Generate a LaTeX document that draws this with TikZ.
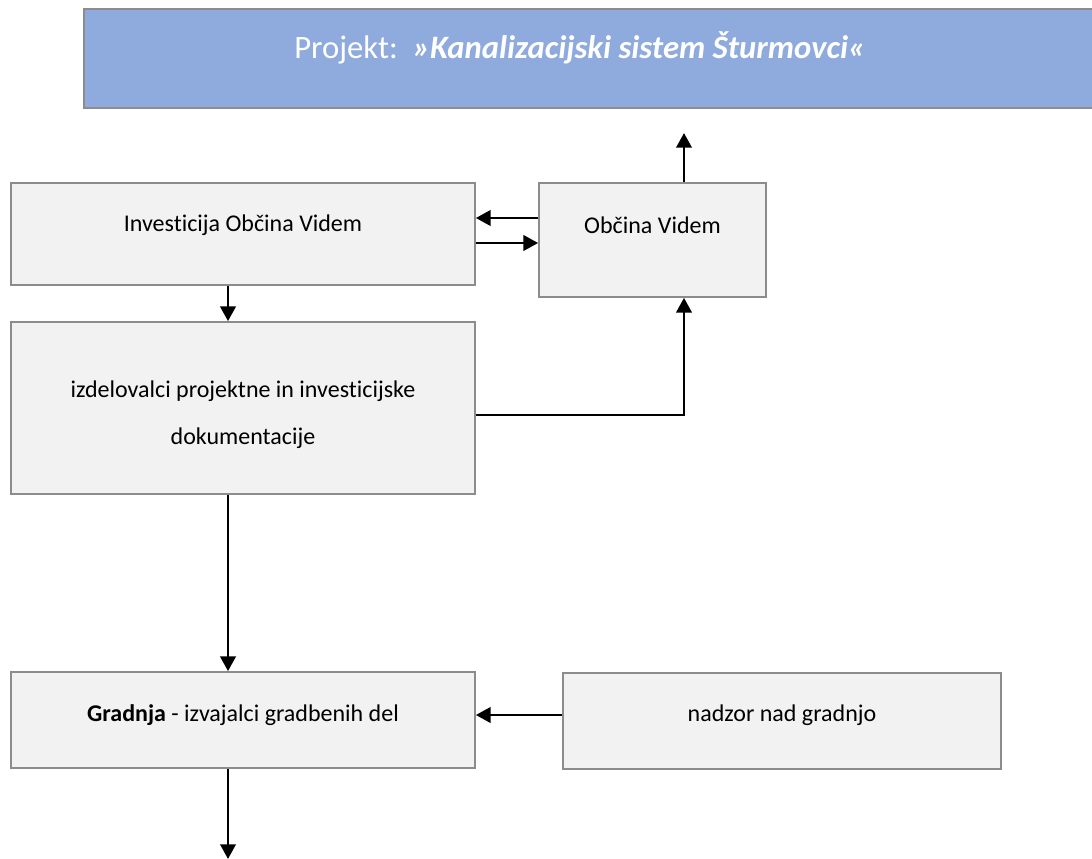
\documentclass[tikz,border=0pt]{standalone}
\usepackage{fontspec}
\setmainfont{Carlito}[Ligatures=NoCommon]
\usetikzlibrary{arrows.meta}
\definecolor{titleblue}{HTML}{8FAADC}
\definecolor{boxfill}{HTML}{F2F2F2}
\definecolor{boxline}{HTML}{8C8C8C}
\begin{document}
\begin{tikzpicture}[x=0.75pt,y=-0.75pt,
  box/.style={draw=boxline,line width=1.3pt,fill=boxfill,rectangle,inner sep=0pt},
  titlebox/.style={draw=boxline,line width=1.8pt,fill=titleblue,rectangle,inner sep=0pt},
  txt/.style={font=\fontsize{18}{35}\selectfont,text=black,align=center,inner sep=0pt},
  arr/.style={line width=2pt,-{Triangle[length=11pt,width=11.5pt]}},
  ln/.style={line width=2pt}]
\useasboundingbox (0,0) rectangle (1092,859);
% title
\node[titlebox,minimum width=762pt,minimum height=74.25pt] (title) at (592,58.5) {};
\node[font=\fontsize{24.5}{28}\selectfont,text=white,inner sep=0pt] (titletxt) at (580,48)
  {Projekt:\ \ \textbf{\textit{»Kanalizacijski sistem Šturmovci«}}};
% boxes
\node[box,minimum width=348pt,minimum height=76.5pt] (b1) at (243,234) {};
\node[txt] (t1) at (243,225) {Investicija Občina Videm};
\node[box,minimum width=170.25pt,minimum height=85.5pt] (b2) at (652.5,240) {};
\node[txt] (t2) at (652.5,225) {Občina Videm};
\node[box,minimum width=348pt,minimum height=129pt] (b3) at (243,408) {};
\node[txt] (t3) at (243,414.5) {izdelovalci projektne in investicijske\\dokumentacije};
\node[box,minimum width=348pt,minimum height=72pt] (b4) at (243,720) {};
\node[txt] (t4) at (243,715) {\textbf{Gradnja} - izvajalci gradbenih del};
\node[box,minimum width=328.5pt,minimum height=72pt] (b5) at (782,721) {};
\node[txt] (t5) at (782,715) {nadzor nad gradnjo};
% helper coordinates
\coordinate (xa) at (228,0);
\coordinate (xb) at (684,0);
\coordinate (ya) at (0,218);
\coordinate (yb) at (0,243);
\coordinate (yc) at (0,415);
\coordinate (yd) at (0,715);
\coordinate (topend) at (684,133);
\coordinate (bend) at (684,415);
\coordinate (botend) at (228,859);
% connectors
\draw[arr] (b2.north -| xb) -- (topend);
\draw[arr] (b2.west |- ya) -- (b1.east |- ya);
\draw[arr] (b1.east |- yb) -- (b2.west |- yb);
\draw[arr] (b1.south -| xa) -- (b3.north -| xa);
\draw[arr] (b3.east |- yc) -- (bend) -- (b2.south -| xb);
\draw[arr] (b3.south -| xa) -- (b4.north -| xa);
\draw[arr] (b5.west |- yd) -- (b4.east |- yd);
\draw[arr] (b4.south -| xa) -- (botend);
\end{tikzpicture}
\end{document}
